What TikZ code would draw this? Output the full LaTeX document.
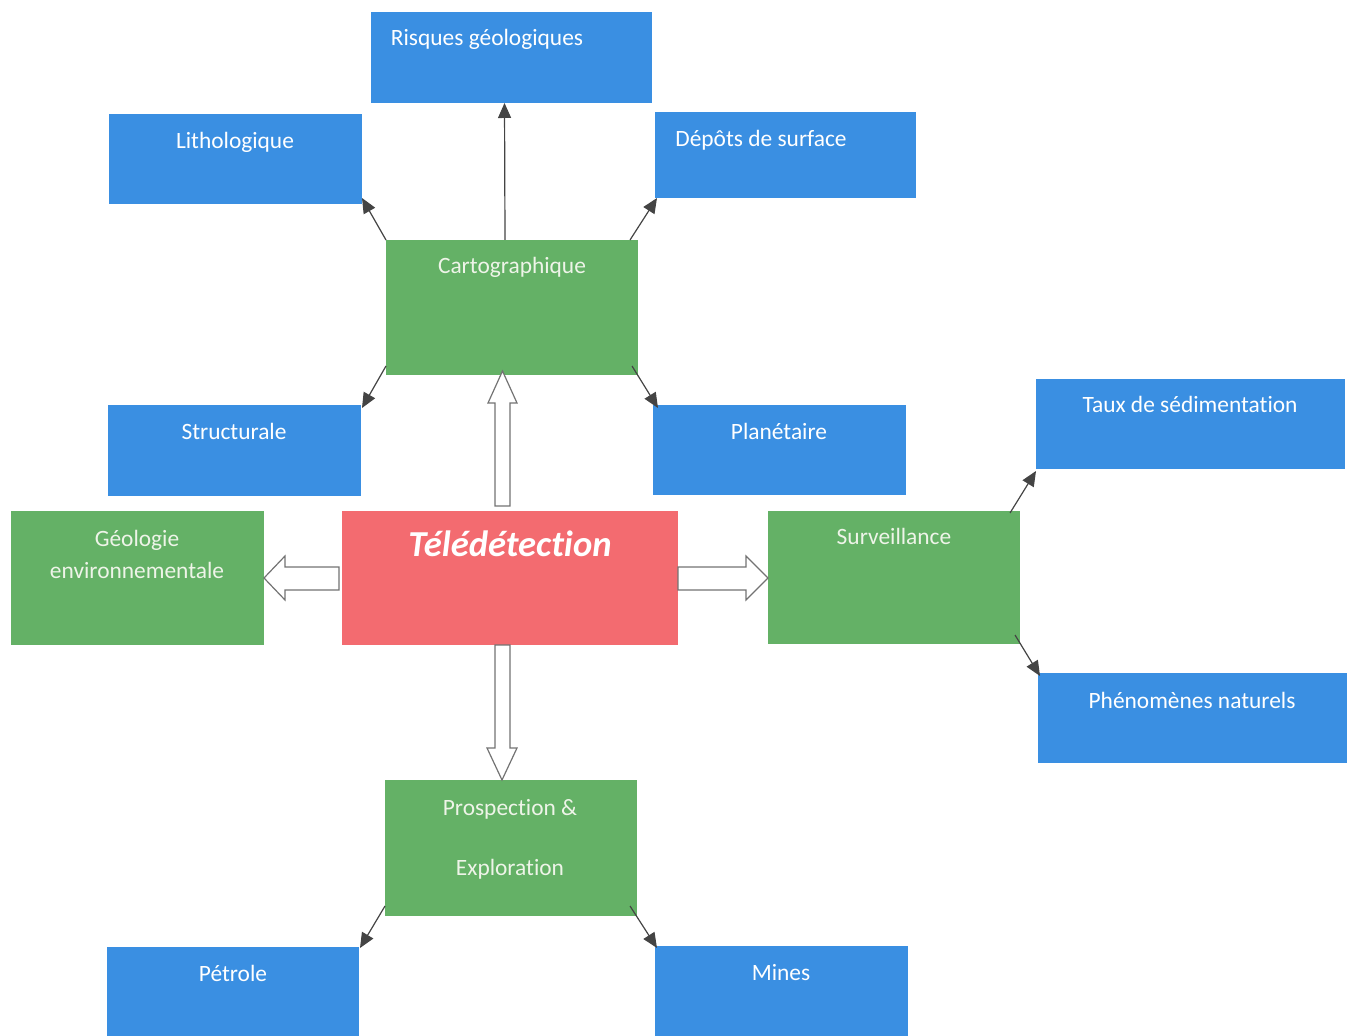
\documentclass[tikz,border=0pt]{standalone}
\usepackage{fontspec}
\setmainfont{Carlito}[Ligatures={NoCommon}]
\usetikzlibrary{arrows.meta,fit,calc}
\definecolor{cblue}{HTML}{3A8FE2}
\definecolor{cgreen}{HTML}{64B166}
\definecolor{cred}{HTML}{F36B70}
\definecolor{cline}{HTML}{444444}
\definecolor{cgtext}{HTML}{EEF4E8}
\begin{document}
\begin{tikzpicture}[x=0.5pt,y=-0.5pt,
  bbox/.style={inner sep=0pt,outer sep=0pt,fill=cblue,draw=none},
  gbox/.style={inner sep=0pt,outer sep=0pt,fill=cgreen,draw=none},
  rbox/.style={inner sep=0pt,outer sep=0pt,fill=cred,draw=none},
  btext/.style={anchor=base,inner sep=0pt,text=white,font=\fontsize{11.7pt}{13pt}\selectfont},
  gtext/.style={btext,text=cgtext},
  conn/.style={draw=cline,line width=0.6pt,-{Triangle[length=7.5pt,width=6.5pt]}},
  blk/.style={draw=black!55,fill=white,line width=0.6pt,line join=miter}]
\useasboundingbox (0,0) rectangle (1352,1036);
% boxes
\node[bbox,fit={(371,12)(652,103)}] (risques) {};
\node[bbox,fit={(109,114)(362,204)}] (litho) {};
\node[bbox,fit={(655,112)(916,198)}] (depots) {};
\node[gbox,fit={(386,240)(638,375)}] (carto) {};
\node[bbox,fit={(108,405)(361,496)}] (struct) {};
\node[bbox,fit={(653,405)(906,495)}] (planet) {};
\node[bbox,fit={(1036,379)(1345,469)}] (taux) {};
\node[gbox,fit={(11,511)(264,645)}] (geol) {};
\node[rbox,fit={(342,511)(678,645)}] (tele) {};
\node[gbox,fit={(768,511)(1020,644)}] (surv) {};
\node[bbox,fit={(1038,673)(1347,763)}] (phen) {};
\node[gbox,fit={(385,780)(637,916)}] (prosp) {};
\node[bbox,fit={(107,947)(359,1036)}] (petrole) {};
\node[bbox,fit={(655,946)(908,1036)}] (mines) {};
% texts
\node[btext] (t1) at (487,46) {Risques géologiques};
\node[btext] (t2) at (235,149) {Lithologique};
\node[btext] (t3) at (761,147) {Dépôts de surface};
\node[gtext] (t4) at (512,274) {Cartographique};
\node[btext] (t5) at (234,440) {Structurale};
\node[btext] (t6) at (779,440) {Planétaire};
\node[btext] (t7) at (1190,413) {Taux de sédimentation};
\node[gtext] (t8) at (137,546) {Géologie};
\node[gtext] (t9) at (137,578) {environnementale};
\node[anchor=base,inner sep=0pt,text=white,font=\fontsize{18.3pt}{21pt}\selectfont\bfseries\itshape] (t10) at (510,556) {Télédétection};
\node[gtext] (t11) at (894,545) {Surveillance};
\node[btext] (t12) at (1192,708) {Phénomènes naturels};
\node[gtext] (t13) at (510,815) {Prospection \&};
\node[gtext] (t14) at (510,875) {Exploration};
\node[btext] (t15) at (233,981) {Pétrole};
\node[btext] (t16) at (781,980) {Mines};
% thin connectors
\draw[conn] ($(carto.north)+(-7,0)$) -- ($(risques.south)+(-7,0)$);
\draw[conn] (carto.north west) -- ($(litho.south east)+(0,-6)$);
\draw[conn] ($(carto.north east)+(-8,0)$) -- ($(depots.south west)+(2,0)$);
\draw[conn] ($(carto.south west)+(0,-9)$) -- ($(struct.north east)+(1,3)$);
\draw[conn] ($(carto.south east)+(-6,-9)$) -- ($(planet.north west)+(5,3)$);
\draw[conn] ($(surv.north east)+(-10,2)$) -- ($(taux.south west)+(0,2)$);
\draw[conn] ($(surv.south east)+(-5,-9)$) -- ($(phen.north west)+(2,3)$);
\draw[conn] ($(prosp.south west)+(0,-10)$) -- ($(petrole.north east)+(1,1)$);
\draw[conn] ($(prosp.south east)+(-7,-10)$) -- ($(mines.north west)+(2,2)$);
% block arrows
\draw[blk] (495,506) -- (495,403) -- (488,403) -- (502.5,371) -- (517,403) -- (510,403) -- (510,506) -- cycle;
\draw[blk] (495,645) -- (495,748) -- (487,748) -- (502,780) -- (517,748) -- (510,748) -- (510,645) -- cycle;
\draw[blk] (339,567) -- (285,567) -- (285,556) -- (264,578) -- (285,600) -- (285,590) -- (339,590) -- cycle;
\draw[blk] (678,567) -- (746,567) -- (746,556) -- (768,578) -- (746,600) -- (746,590) -- (678,590) -- cycle;
\end{tikzpicture}
\end{document}
